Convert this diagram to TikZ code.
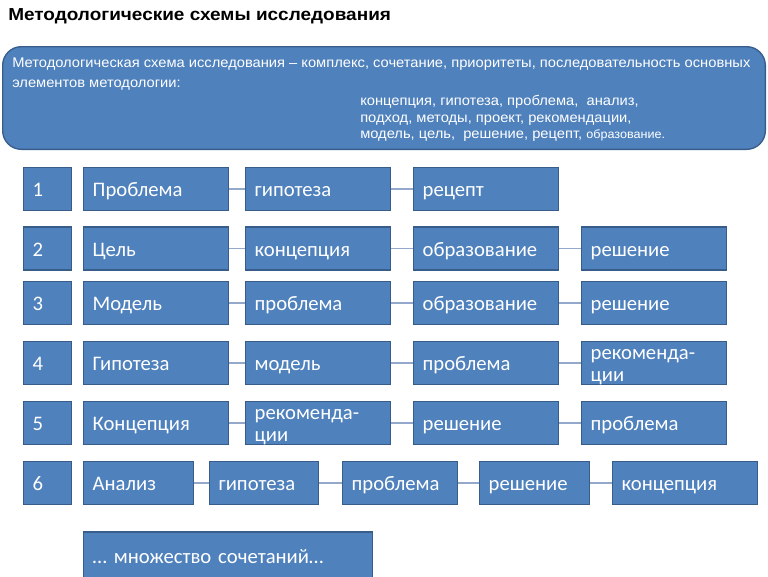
\documentclass[tikz,border=0pt]{standalone}
\usepackage{fontspec}
\setmainfont{Carlito}
\newfontfamily\titlefont[FakeStretch=1.095]{Liberation Sans}
\newfontfamily\opisfont[FakeStretch=1.05]{Liberation Sans}
\definecolor{blokfill}{HTML}{4F81BD}
\definecolor{blokline}{HTML}{385D8A}
\definecolor{svjazcol}{HTML}{94A8CB}
\newcommand\opora{\rule[-4.2pt]{0pt}{19.7pt}}

\tikzset{
  blok/.style={draw=blokline, fill=blokfill, line width=1pt, text=white,
    anchor=west, minimum height=32.25pt, inner xsep=6.75pt, inner ysep=0pt,
    align=left, font=\fontsize{15.5}{17}\selectfont,
    execute at begin node=\opora},
  blokdva/.style={blok, text height=13.3pt, text depth=19pt},
  svjaz/.style={draw=svjazcol, line width=1pt},
  opistext/.style={text=white, inner sep=0pt, anchor=north west, align=left}
}

\begin{document}
\begin{tikzpicture}[x=0.75pt,y=-0.75pt]
 \useasboundingbox (0,0) rectangle (768,576);
 \node[anchor=west, inner sep=0pt, font=\titlefont\bfseries\fontsize{13}{15}\selectfont] (titul) at (8,16) {Методологические схемы исследования};

 % opisanie
 \node[draw=blokline, fill=blokfill, line width=1pt, rounded corners=14pt,
   minimum width=572pt, minimum height=77pt] (opis) at (384,98) {};
 \node[opistext, font=\opisfont\fontsize{10.5}{15}\selectfont] (opisA) at (12,58) {Методологическая схема исследования – комплекс, сочетание, приоритеты, последовательность основных\\элементов методологии:};
 \node[opistext, font=\opisfont\fontsize{10.5}{12.5}\selectfont] (opisB) at (360,95) {концепция, гипотеза, проблема,\ \ анализ,\\подход, методы, проект, рекомендации,\\модель, цель,\ \ решение, рецепт, {\fontsize{9}{9}\selectfont образование.}};

 % 1
 \node[blok, text width=22.5pt] (n1) at (23,189) {1};
 \node[blok, text width=95.25pt] (r1a) at (83,189) {Проблема};
 \node[blok, text width=95.25pt] (r1b) at (245,189) {гипотеза};
 \node[blok, text width=95.25pt] (r1c) at (413,189) {рецепт};
 \draw[svjaz] (r1a) -- (r1b);
 \draw[svjaz] (r1b) -- (r1c);

 % 2
 \node[blok, text width=22.5pt] (n2) at (23,248.5) {2};
 \node[blok, text width=95.25pt] (r2a) at (83,248.5) {Цель};
 \node[blok, text width=95.25pt] (r2b) at (245,248.5) {концепция};
 \node[blok, text width=95.25pt] (r2c) at (413,248.5) {образование};
 \node[blok, text width=95.25pt] (r2d) at (581,248.5) {решение};
 \draw[svjaz] (r2a) -- (r2b);
 \draw[svjaz] (r2b) -- (r2c);
 \draw[svjaz] (r2c) -- (r2d);

 % 3
 \node[blok, text width=22.5pt] (n3) at (23,303) {3};
 \node[blok, text width=95.25pt] (r3a) at (83,303) {Модель};
 \node[blok, text width=95.25pt] (r3b) at (245,303) {проблема};
 \node[blok, text width=95.25pt] (r3c) at (413,303) {образование};
 \node[blok, text width=95.25pt] (r3d) at (581,303) {решение};
 \draw[svjaz] (r3a) -- (r3b);
 \draw[svjaz] (r3b) -- (r3c);
 \draw[svjaz] (r3c) -- (r3d);

 % 4
 \node[blok, text width=22.5pt] (n4) at (23,363) {4};
 \node[blok, text width=95.25pt] (r4a) at (83,363) {Гипотеза};
 \node[blok, text width=95.25pt] (r4b) at (245,363) {модель};
 \node[blok, text width=95.25pt] (r4c) at (413,363) {проблема};
 \node[blokdva, text width=95.25pt] (r4d) at (581,363) {рекоменда-\\ции};
 \draw[svjaz] (r4a) -- (r4b);
 \draw[svjaz] (r4b) -- (r4c);
 \draw[svjaz] (r4c) -- (r4d);

 % 5
 \node[blok, text width=22.5pt] (n5) at (23,423) {5};
 \node[blok, text width=95.25pt] (r5a) at (83,423) {Концепция};
 \node[blokdva, text width=95.25pt] (r5b) at (245,423) {рекоменда-\\ции};
 \node[blok, text width=95.25pt] (r5c) at (413,423) {решение};
 \node[blok, text width=95.25pt] (r5d) at (581,423) {проблема};
 \draw[svjaz] (r5a) -- (r5b);
 \draw[svjaz] (r5b) -- (r5c);
 \draw[svjaz] (r5c) -- (r5d);

 % 6
 \node[blok, text width=22.5pt] (n6) at (23,483) {6};
 \node[blok, text width=69pt] (r6a) at (83,483) {Анализ};
 \node[blok, text width=68.25pt] (r6b) at (209,483) {гипотеза};
 \node[blok, text width=72.75pt] (r6c) at (342,483) {проблема};
 \node[blok, text width=69pt] (r6d) at (479,483) {решение};
 \node[blok, text width=95.25pt] (r6e) at (612,483) {концепция};
 \draw[svjaz] (r6a) -- (r6b);
 \draw[svjaz] (r6b) -- (r6c);
 \draw[svjaz] (r6c) -- (r6d);
 \draw[svjaz] (r6d) -- (r6e);

 \node[blok, text width=203.25pt, minimum height=36pt] (mnogo) at (83,556) {… множество сочетаний…};
\end{tikzpicture}
\end{document}
